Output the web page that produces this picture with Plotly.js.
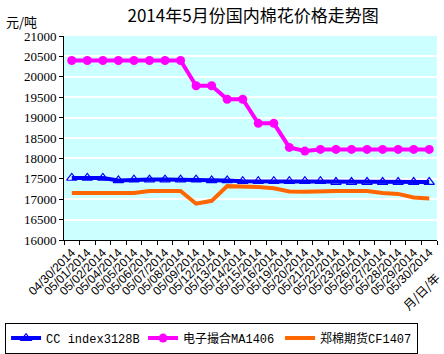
<!DOCTYPE html>
<html><head><meta charset="utf-8">
<script src="https://cdn.plot.ly/plotly-3.0.1.min.js"></script>
<style>html,body{margin:0;padding:0;background:#fff;}#c{width:444px;height:354px;}</style>
</head><body><div id="c"></div>
<script>
const dates = ["04/30/2014","05/01/2014","05/02/2014","05/04/2014","05/05/2014","05/06/2014","05/07/2014","05/08/2014","05/09/2014","05/12/2014","05/13/2014","05/14/2014","05/15/2014","05/16/2014","05/19/2014","05/20/2014","05/21/2014","05/22/2014","05/23/2014","05/26/2014","05/27/2014","05/28/2014","05/29/2014","05/30/2014"];
const ccIndex = [17520,17520,17520,17460,17480,17480,17480,17480,17480,17460,17460,17440,17440,17440,17440,17440,17440,17420,17420,17420,17420,17420,17420,17420];
const dzch = [20400,20400,20400,20400,20400,20400,20400,20400,19780,19780,19450,19450,18860,18860,18270,18180,18220,18220,18220,18220,18220,18220,18220,18220];
const zmqh = [17150,17150,17150,17150,17150,17200,17200,17200,16890,16960,17320,17320,17300,17270,17190,17180,17200,17200,17200,17200,17150,17130,17040,17020];
const names = ["CC index3128B","电子撮合MA1406","郑棉期货CF1407"];

const traces = [
  {x: dates, y: ccIndex, name: names[0], type:'scatter', mode:'lines+markers',
   line:{color:'#0000ff', width:4}, marker:{symbol:'triangle-up-open', size:9, color:'#0000ff', line:{width:1.2, color:'#0000ff'}}},
  {x: dates, y: dzch, name: names[1], type:'scatter', mode:'lines+markers',
   line:{color:'#ff00ff', width:4}, marker:{symbol:'circle', size:9, color:'#ff00ff'}},
  {x: dates, y: zmqh, name: names[2], type:'scatter', mode:'lines',
   line:{color:'#ff6600', width:4}}
];

const layout = {
  width:444, height:354,
  margin:{l:64, r:7, t:36, b:114, autoexpand:false},
  paper_bgcolor:'#ffffff', plot_bgcolor:'#ccffff',
  title:{text:'2014年5月份国内棉花价格走势图', x:0.57, xanchor:'center', y:0.955, yanchor:'middle',
         font:{family:'Noto Sans CJK SC', size:17, color:'#000'}},
  xaxis:{type:'category', showline:true, linecolor:'#000', linewidth:1, mirror:false,
         ticks:'outside', ticklen:4, tickcolor:'#000', tickson:'boundaries',
         showgrid:false, tickangle:-45, tickfont:{family:'Liberation Sans', size:12, color:'#000'},
         range:[-0.5, 23.5], fixedrange:true},
  yaxis:{range:[16000,21000], dtick:500, tickformat:'d', showline:true, linecolor:'#000', linewidth:1,
         ticks:'outside', ticklen:4, tickcolor:'#000', gridcolor:'#ffffff', gridwidth:2,
         tickfont:{family:'Liberation Serif', size:13, color:'#000'}, zeroline:false, fixedrange:true},
  showlegend:true,
  legend:{orientation:'h', x:-0.158, xanchor:'left', y:-0.405, yanchor:'top', xref:'paper', yref:'paper',
          bordercolor:'#000', borderwidth:1, bgcolor:'#fff',
          font:{family:'Liberation Mono, Noto Sans CJK SC', size:12, color:'#000'},
          itemwidth:30, tracegroupgap:0, entrywidthmode:'pixels', entrywidth:92},
  annotations:[
    {text:'元/吨', xref:'paper', yref:'paper', x:-0.115, y:1.07, xanchor:'center', yanchor:'middle', showarrow:false,
     font:{family:'Noto Sans CJK SC', size:13, color:'#000'}},
    {text:'月/日/年', xref:'paper', yref:'paper', x:0.955, y:-0.25, xanchor:'center', yanchor:'middle', showarrow:false, textangle:-45,
     font:{family:'Noto Sans CJK SC', size:12, color:'#000'}}
  ]
};
Plotly.newPlot('c', traces, layout, {displayModeBar:false, staticPlot:true});
</script></body></html>
